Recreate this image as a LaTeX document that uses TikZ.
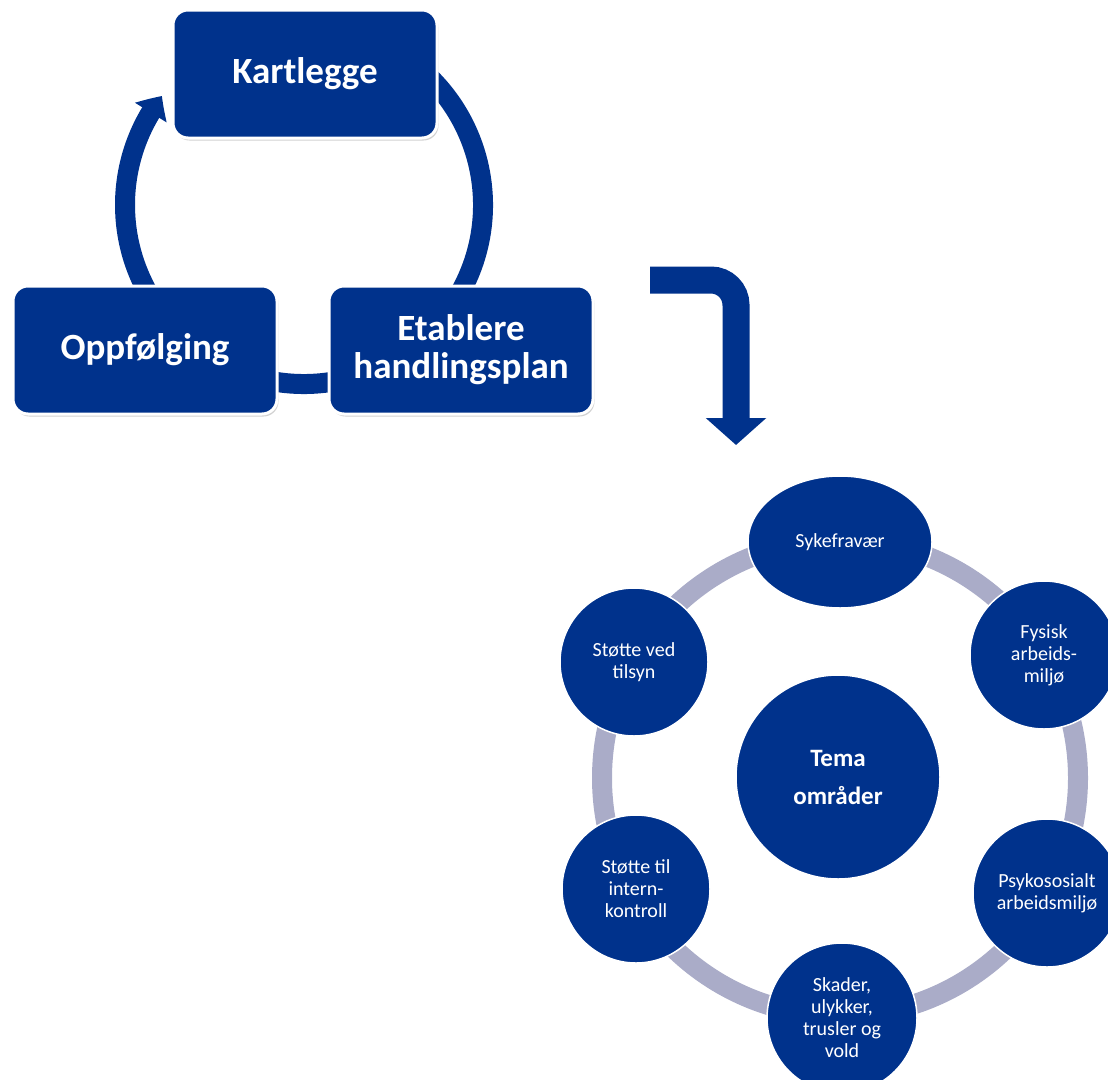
\documentclass[tikz,border=0pt]{standalone}
\usepackage{fontspec}
\setmainfont{Carlito}
\usetikzlibrary{arrows.meta,bending,shadows,calc,shapes.geometric}
\definecolor{navy}{RGB}{0,50,140}
\definecolor{ringgray}{RGB}{170,172,200}
\begin{document}
\begin{tikzpicture}[x=1pt,y=1pt,
  stepbox/.style={rectangle, rounded corners=15pt, fill=navy, draw=white, line width=3pt,
    minimum width=264pt, minimum height=128pt, text=white, align=center,
    font=\fontsize{37}{38}\selectfont\bfseries,
    drop shadow={shadow xshift=1.5pt, shadow yshift=-2.5pt, fill=black, opacity=0.18}},
  topic/.style={circle, fill=navy, draw=white, line width=1.5pt, minimum size=148pt,
    inner sep=0pt, text=white, align=center, font=\fontsize{20}{22}\selectfont},
  topicoval/.style={ellipse, fill=navy, draw=white, line width=1.5pt, minimum width=184pt,
    minimum height=132pt, inner sep=0pt, text=white, align=center, font=\fontsize{20}{22}\selectfont},
  hub/.style={circle, fill=navy, draw=white, line width=1.5pt, minimum size=204pt,
    inner sep=0pt, text=white, align=center, font=\fontsize{25}{38}\selectfont\bfseries},
  cyclearrow/.style={navy, line width=20pt, -{Triangle[width=36pt,length=20pt,bend]}},
  bentarrow/.style={navy, line width=27pt, rounded corners=25pt, -{Triangle[width=59pt,length=27pt]}}
]
\useasboundingbox (0,0) rectangle (1108,-1079);
\clip (0,0) rectangle (1108,-1079);

% ---- top cycle ----
\coordinate (ringc) at (304,-205);
\draw[white, line width=26pt] (ringc) ++(60:179) arc[start angle=60, end angle=-212, radius=179];
\draw[cyclearrow] (ringc) ++(60:179) arc[start angle=60, end angle=-217.5, radius=179];

\node[stepbox] (kart) at (305,-74) {Kartlegge};
\node[stepbox] (opp) at (145,-350) {Oppfølging};
\node[stepbox] (etab) at (461,-350) {Etablere\\handlingsplan};

% ---- bent arrow ----
\coordinate (bstart) at (650,-280);
\coordinate (bcorner) at (736,-280);
\coordinate (bend) at (736,-445);
\draw[white, line width=33pt, rounded corners=27pt] (647,-280) -- (bcorner) -- (736,-418);
\fill[white] (704,-415) -- (771,-415) -- (736,-450) -- cycle;
\draw[bentarrow] (bstart) -- (bcorner) -- (bend);

% ---- topic wheel ----
\coordinate (wc) at (840,-778);
\draw[ringgray, line width=20pt] (wc) circle[radius=238];
\node[hub] (tema) at (838,-777) {Tema\\områder};
\node[topicoval] (syk) at (840,-542) {Sykefravær};
\node[topic] (fys) at (1044,-655) {Fysisk\\arbeids-\\miljø};
\node[topic] (psy) at (1047,-893) {Psykososialt\\arbeidsmiljø};
\node[topic, minimum size=150pt] (ska) at (842,-1018) {Skader,\\ulykker,\\trusler og\\vold};
\node[topic] (int) at (636,-889) {Støtte til\\intern-\\kontroll};
\node[topic] (til) at (634,-662) {Støtte ved\\tilsyn};
\end{tikzpicture}
\end{document}
